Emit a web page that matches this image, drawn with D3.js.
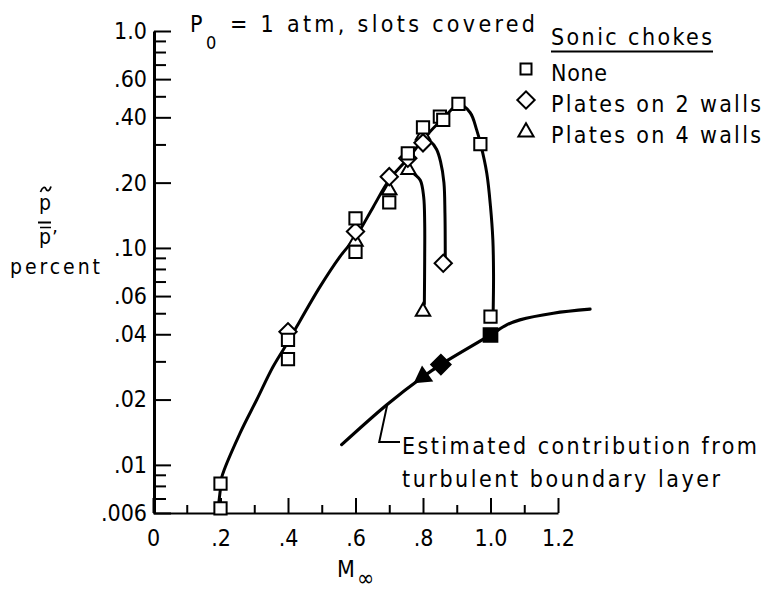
<!DOCTYPE html>
<html><head><meta charset="utf-8">
<script src="https://cdn.jsdelivr.net/npm/d3@7"></script>
<style>
body{margin:0;background:#fff}
svg{display:block}
text{font-family:"DejaVu Sans Condensed","DejaVu Sans",sans-serif;fill:#000}
</style>
</head><body>
<svg id="c" width="767" height="591"></svg>
<script>
// ---------- data ----------
const machNone   = [0.2, 0.2, 0.4, 0.4, 0.6, 0.6, 0.7, 0.755, 0.8, 0.85, 0.86, 0.905, 0.97, 1.0];
const ratioNone  = [0.0082, 0.0063, 0.0307, 0.0377, 0.137, 0.096, 0.162, 0.273, 0.36, 0.403, 0.389, 0.461, 0.301, 0.0482];
const machPlates2  = [0.4, 0.6, 0.7, 0.755, 0.8, 0.86];
const ratioPlates2 = [0.0411, 0.119, 0.213, 0.259, 0.305, 0.085];
const machPlates4  = [0.6, 0.7, 0.757, 0.8, 0.8];
const ratioPlates4 = [0.107, 0.185, 0.229, 0.33, 0.0509];
// estimated boundary-layer contribution (filled symbols)
const machBL   = [0.8, 0.853, 1.0];
const ratioBL  = [0.0255, 0.029, 0.0397];
const shapeBL  = ["triangle", "diamond", "square"];

// faired curves
const fairMainMach  = [0.195, 0.2, 0.204, 0.258, 0.307, 0.356, 0.404, 0.426, 0.495, 0.554, 0.601, 0.653, 0.700, 0.756, 0.803, 0.860, 0.907, 0.94, 0.959, 0.971, 0.989, 1.0, 1.007, 1.009, 1.008];
const fairMainRatio = [0.0067, 0.0078, 0.0088, 0.0140, 0.0199, 0.0284, 0.0377, 0.0434, 0.0663, 0.0912, 0.1127, 0.155, 0.206, 0.259, 0.32, 0.396, 0.458, 0.42, 0.35, 0.30, 0.221, 0.155, 0.109, 0.075, 0.052];
const fair2Mach  = [0.803, 0.822, 0.84, 0.852, 0.862, 0.865, 0.866];
const fair2Ratio = [0.318, 0.31, 0.285, 0.25, 0.2, 0.145, 0.09];
const fair4Mach  = [0.75, 0.771, 0.792, 0.802, 0.805, 0.805, 0.804];
const fair4Ratio = [0.252, 0.222, 0.205, 0.172, 0.13, 0.09, 0.055];
const blMach  = [0.559, 0.692, 0.80, 0.853, 1.0, 1.048, 1.087, 1.186, 1.295];
const blRatio = [0.0124, 0.0189, 0.0255, 0.029, 0.0397, 0.0442, 0.0466, 0.050, 0.0522];

// ticks
const yTickValues = [1.0, 0.6, 0.4, 0.2, 0.1, 0.06, 0.04, 0.02, 0.01, 0.006];
const yTickLabels = ["1.0", ".60", ".40", ".20", ".10", ".06", ".04", ".02", ".01", ".006"];
const yMinorTicks = [0.9, 0.8, 0.7, 0.5, 0.3, 0.09, 0.08, 0.07, 0.05, 0.03, 0.009, 0.008, 0.007];
const xTickValues = [0, 0.2, 0.4, 0.6, 0.8, 1.0, 1.2];
const xTickLabels = ["0", ".2", ".4", ".6", ".8", "1.0", "1.2"];
const xMinorTicks = [0.1, 0.3, 0.5, 0.7, 0.9, 1.1];

const legendTitle = "Sonic chokes";
const legendLabels = ["None", "Plates on 2 walls", "Plates on 4 walls"];
const legendShapes = ["square", "diamond", "triangle"];
const titleText = "= 1 atm, slots covered";
const noteLines = ["Estimated contribution from", "turbulent boundary layer"];

// ---------- drawing ----------
const svg = d3.select("#c");
const FS = 23;
const x = d3.scaleLinear().domain([0, 1.2]).range([153, 558]);
const y = d3.scaleLog().domain([0.006, 1.0]).range([513, 31]);

function styleAxis(g) {
  g.attr("font-family", null).attr("font-size", null);
  g.selectAll("text").attr("font-size", FS).style("fill", "#000");
  g.selectAll("line").attr("stroke", "#000");
  g.select(".domain").attr("stroke", "#000");
}

// y axis
const gyMinor = svg.append("g").attr("transform", "translate(154,0)")
  .call(d3.axisLeft(y).tickValues(yMinorTicks).tickFormat(() => "").tickSize(-12).tickSizeOuter(0));
gyMinor.select(".domain").remove();
gyMinor.selectAll(".tick line").attr("stroke", "#000").attr("stroke-width", 2);

const gy = svg.append("g").attr("transform", "translate(154,0)")
  .call(d3.axisLeft(y).tickValues(yTickValues).tickFormat((d, i) => yTickLabels[i])
    .tickSize(-17).tickSizeOuter(0).tickPadding(7));
styleAxis(gy);
gy.select(".domain").attr("stroke-width", 3);
gy.selectAll(".tick line").attr("stroke-width", 2);

// x axis
const gxMinor = svg.append("g").attr("transform", "translate(0,513)")
  .call(d3.axisBottom(x).tickValues(xMinorTicks).tickFormat(() => "").tickSize(-8).tickSizeOuter(0));
gxMinor.select(".domain").remove();
gxMinor.selectAll(".tick line").attr("stroke", "#000").attr("stroke-width", 2);

const gx = svg.append("g").attr("transform", "translate(0,513)")
  .call(d3.axisBottom(x).tickValues(xTickValues).tickFormat((d, i) => xTickLabels[i])
    .tickSize(-15).tickSizeOuter(0).tickPadding(17));
styleAxis(gx);
gx.select(".domain").attr("stroke-width", 2);
gx.selectAll(".tick line").attr("stroke-width", 2);

// curves
const line = d3.line().x(d => x(d[0])).y(d => y(d[1])).curve(d3.curveCatmullRom.alpha(0.5));
function curve(ms, rs, w) {
  svg.append("path").attr("d", line(ms.map((m, i) => [m, rs[i]])))
    .attr("fill", "none").attr("stroke", "#000").attr("stroke-width", w)
    .attr("stroke-linecap", "round");
}
curve(fairMainMach, fairMainRatio, 3);
curve(fair2Mach, fair2Ratio, 3);
curve(fair4Mach, fair4Ratio, 3);
curve(blMach, blRatio, 3.2);

// leader line for the note
const lp = [x(0.694), y(0.0189)];
svg.append("path")
  .attr("d", `M${lp[0]},${lp[1]} L${lp[0] - 8},442 L400,442`)
  .attr("fill", "none").attr("stroke", "#000").attr("stroke-width", 2);

// symbols
const sym = {
  square:   { type: d3.symbolSquare,   size: 150, rot: 0 },
  diamond:  { type: d3.symbolSquare,   size: 150, rot: 45 },
  triangle: { type: d3.symbolTriangle, size: 90,  rot: 0 }
};
function marks(ms, rs, shape, filled, extraRot) {
  const s = sym[shape];
  svg.append("g").selectAll("path").data(ms.map((m, i) => [m, rs[i]])).join("path")
    .attr("d", d3.symbol().type(s.type).size(filled ? s.size * 1.25 : s.size)())
    .attr("transform", d => `translate(${x(d[0])},${y(d[1])}) rotate(${s.rot + (extraRot || 0)})`)
    .attr("fill", filled ? "#000" : "#fff")
    .attr("stroke", "#000").attr("stroke-width", 2);
}
marks(machPlates4, ratioPlates4, "triangle", false);
marks(machPlates2, ratioPlates2, "diamond", false);
marks(machNone, ratioNone, "square", false);
machBL.forEach((m, i) => marks([m], [ratioBL[i]], shapeBL[i], true, shapeBL[i] === "triangle" ? -125 : 0));

// title
svg.append("text").attr("x", 190).attr("y", 32).attr("font-size", FS).text("P");
svg.append("text").attr("x", 206).attr("y", 49).attr("font-size", 18).text("0");
svg.append("text").attr("x", 230).attr("y", 32).attr("font-size", FS)
  .attr("textLength", 305).attr("lengthAdjust", "spacing").text(titleText);

// legend
svg.append("text").attr("x", 551).attr("y", 45).attr("font-size", FS)
  .attr("textLength", 161).attr("lengthAdjust", "spacing").text(legendTitle);
svg.append("line").attr("x1", 551).attr("x2", 713).attr("y1", 51.5).attr("y2", 51.5)
  .attr("stroke", "#000").attr("stroke-width", 2);
const legendWidths = [56, 210, 210];
legendLabels.forEach((lab, i) => {
  const cy = 72 + i * 31;
  svg.append("text").attr("x", 551).attr("y", cy + 8.5).attr("font-size", FS)
    .attr("textLength", legendWidths[i]).attr("lengthAdjust", "spacing").text(lab);
  const s = sym[legendShapes[i]];
  svg.append("path").attr("d", d3.symbol().type(s.type).size(legendShapes[i] === "square" ? 121 : (legendShapes[i] === "diamond" ? 150 : 100))())
    .attr("transform", `translate(526,${cy - 3 + (i === 2 ? 1 : 0)}) rotate(${s.rot})`)
    .attr("fill", "#fff").attr("stroke", "#000").attr("stroke-width", 2);
});

// note
noteLines.forEach((t, i) => {
  svg.append("text").attr("x", 402).attr("y", 454 + i * 33).attr("font-size", FS)
    .attr("textLength", i === 0 ? 355 : 318).attr("lengthAdjust", "spacing").text(t);
});

// y-axis label: p-tilde over p-bar
svg.append("path").attr("d", "M40.5,192 C42.5,186.5 45,186.5 46,189 C47,191.5 49.5,191.5 51,186.5")
  .attr("fill", "none").attr("stroke", "#000").attr("stroke-width", 1.8);
svg.append("text").attr("x", 45).attr("y", 210).attr("font-size", 21).attr("text-anchor", "middle").text("p");
svg.append("line").attr("x1", 38).attr("x2", 51).attr("y1", 222.5).attr("y2", 222.5).attr("stroke", "#000").attr("stroke-width", 2);
svg.append("line").attr("x1", 40).attr("x2", 51).attr("y1", 227.5).attr("y2", 227.5).attr("stroke", "#000").attr("stroke-width", 1.5);
svg.append("text").attr("x", 45).attr("y", 244).attr("font-size", 21).attr("text-anchor", "middle").text("p");
svg.append("text").attr("x", 52).attr("y", 244).attr("font-size", 20).text("’");
svg.append("text").attr("x", 10).attr("y", 274).attr("font-size", 21)
  .attr("textLength", 90).attr("lengthAdjust", "spacing").text("percent");

// x-axis label
svg.append("text").attr("x", 337).attr("y", 577).attr("font-size", FS).text("M");
svg.append("text").attr("x", 357).attr("y", 586).attr("font-size", 23).text("∞");
</script>
</body></html>
